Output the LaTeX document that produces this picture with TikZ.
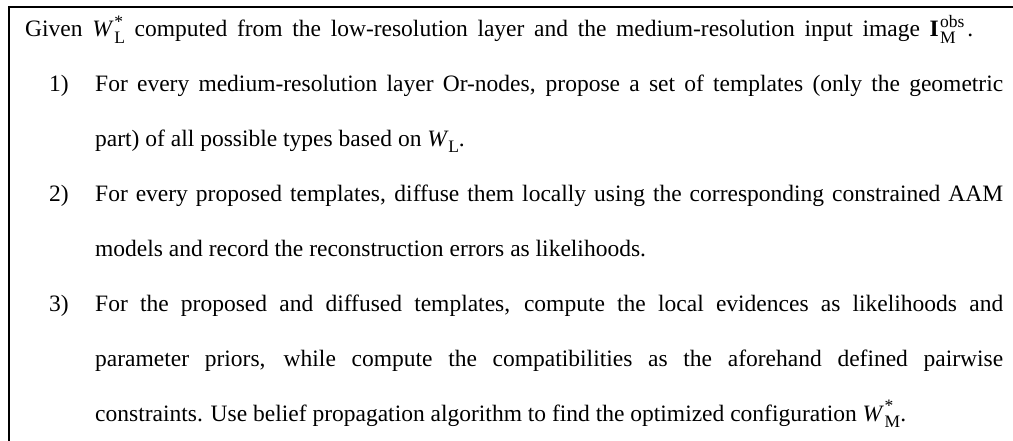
\documentclass[tikz,border=0pt]{standalone}
\usepackage{fontspec}
\setmainfont{Liberation Serif}
\newcommand\scr[1]{{\fontsize{17.5}{17.5}\selectfont #1}}
\newcommand\WStar[1]{\textit{W}\kern0.03em\rlap{\raisebox{0.40em}{\scr{*}}}\raisebox{-0.26em}{\scr{#1}}}
\newcommand\Iobs{\textbf{I}\kern0.06em\rlap{\raisebox{-0.26em}{\scr{M}}}\raisebox{0.40em}{\scr{obs}}\kern0.12em}
\newcommand\WL{\textit{W}\kern-0.02em\raisebox{-0.26em}{\scr{L}}}
\begin{document}
\begin{tikzpicture}[x=1pt,y=-1pt,
  frame/.style={line width=1.3pt},
  txt/.style={inner sep=0pt, anchor=base west, font=\fontsize{23.5}{54.9}\selectfont},
  lbl/.style={txt},
  para/.style={txt, text width=908pt, align=justify}]
\useasboundingbox (0,0) rectangle (1013,441);
\draw[frame] (9,441) -- (9,7) -- (1013,7);
\node[txt] (given) at (25,37) {\makebox[948pt][s]{Given \WStar{L} computed from the low-resolution layer and the medium-resolution input image \Iobs.}};
\node[lbl] (l1) at (49,91.9) {1)};
\node[para] (p1) at (95,91.9) {For every medium-resolution layer Or-nodes, propose a set of templates (only the geometric\linebreak part) of all possible types based on \WL.};
\node[lbl] (l2) at (49,201.7) {2)};
\node[para] (p2) at (95,201.7) {For every proposed templates, diffuse them locally using the corresponding constrained AAM\linebreak models and record the reconstruction errors as likelihoods.};
\node[lbl] (l3) at (49,311.5) {3)};
\node[para] (p3) at (95,311.5) {For the proposed and diffused templates, compute the local evidences as likelihoods and\linebreak parameter priors, while compute the compatibilities as the aforehand defined pairwise\linebreak constraints. Use belief propagation algorithm to find the optimized configuration \WStar{M}.};
\end{tikzpicture}
\end{document}
